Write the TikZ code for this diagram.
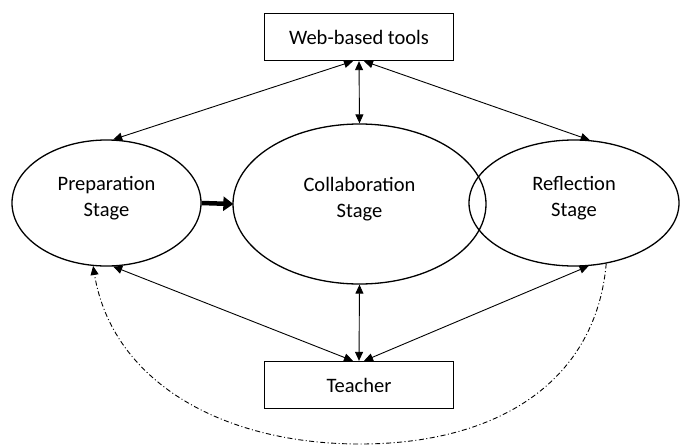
\documentclass[tikz,border=0pt]{standalone}
\usepackage{fontspec}
\setmainfont{Carlito}
\usetikzlibrary{arrows.meta,shapes.geometric}
\begin{document}
\begin{tikzpicture}[x=1pt,y=-1pt,
  box/.style={draw, line width=1.3pt, minimum width=189pt, minimum height=47pt, inner sep=0pt, font=\fontsize{20.5}{26}\selectfont},
  stage/.style={draw, ellipse, line width=1.3pt, inner sep=0pt, align=center, text depth=14pt, font=\fontsize{20.5}{26}\selectfont},
  link/.style={line width=0.9pt, {Triangle[length=9pt,width=8pt]}-{Triangle[length=9pt,width=8pt]}},
  bigarrow/.style={line width=4.5pt, -{Triangle[length=10pt,width=14pt]}, shorten >=-1pt},
  feedback/.style={line width=0.9pt, dash pattern=on 5pt off 2.5pt on 1pt off 2.5pt, -{Triangle[length=9pt,width=8pt]}}
]
\useasboundingbox (0,0) rectangle (680,447);
\node[box] (web) at (359,37) {Web-based tools};
\node[box] (teach) at (359,385) {Teacher};
\node[stage, minimum width=189pt, minimum height=126pt] (prep) at (106.5,203) {Preparation\\Stage};
\node[stage, minimum width=253pt, minimum height=160pt] (coll) at (359.5,204) {Collaboration\\Stage};
\node[stage, minimum width=210pt, minimum height=126pt] (refl) at (574,203) {Reflection\\Stage};
\coordinate (wl) at ([xshift=-6pt]web.south);
\coordinate (wr) at ([xshift=5pt]web.south);
\coordinate (tl) at ([xshift=-6pt]teach.north);
\coordinate (tr) at ([xshift=5pt]teach.north);
\draw[link] (wl) -- (prep.84);
\draw[link] (web.south) -- (coll.north);
\draw[link] (wr) -- (refl.76);
\draw[link] (tl) -- (prep.-84);
\draw[link] (teach.north) -- (coll.south);
\draw[link] (tr) -- (refl.-77);
\draw[bigarrow] (prep.east) -- (coll.west);
\draw[feedback] (refl.-62) .. controls (596,380) and (500,444) .. (360,444) .. controls (220,444) and (112,380) .. (prep.-102);
\end{tikzpicture}
\end{document}
